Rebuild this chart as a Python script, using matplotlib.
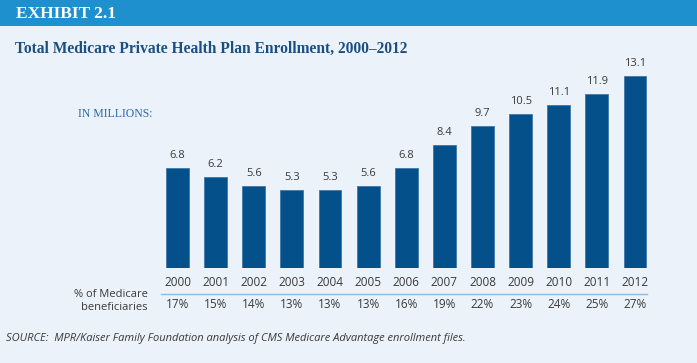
import matplotlib
matplotlib.use("Agg")
import matplotlib.pyplot as plt
from matplotlib.patches import Rectangle
from matplotlib.transforms import blended_transform_factory

years = ["2000", "2001", "2002", "2003", "2004", "2005", "2006",
         "2007", "2008", "2009", "2010", "2011", "2012"]
enrollment = [6.8, 6.2, 5.6, 5.3, 5.3, 5.6, 6.8, 8.4, 9.7, 10.5, 11.1, 11.9, 13.1]
pct_labels = ["17%", "15%", "14%", "13%", "13%", "13%", "16%",
              "19%", "22%", "23%", "24%", "25%", "27%"]

W, H = 697, 363
BG = "#EBF2FA"
HEADER = "#1E90CE"
BAR = "#04508A"
TITLE = "#1B4F80"
TXT = "#3a3a3a"

fig = plt.figure(figsize=(W / 100, H / 100), dpi=100, facecolor=BG)

# header band
fig.patches.append(Rectangle((0, 1 - 26 / H), 1, 26 / H, transform=fig.transFigure,
                             facecolor=HEADER, edgecolor="none", zorder=0))
fig.text(16 / W, 1 - 13.5 / H, "EXHIBIT 2.1", color="white", fontsize=12.5,
         fontweight="bold", family="Liberation Serif", va="center", ha="left")
fig.text(15 / W, 1 - 49 / H, "Total Medicare Private Health Plan Enrollment, 2000–2012",
         color=TITLE, fontsize=11.2, fontweight="bold", family="Liberation Serif",
         va="center", ha="left")
fig.text(78 / W, 1 - 114 / H, "IN MILLIONS:", color="#2a6aa6", fontsize=8.5,
         family="Liberation Serif", va="center", ha="left")

# axes in pixel layout
step = 38.1
left_px = 177.5 - 0.5 * step
right_px = 635 + 0.5 * step
bottom_px = 268
ymax = 14
top_px = bottom_px - ymax * 14.66
ax = fig.add_axes([left_px / W, 1 - bottom_px / H, (right_px - left_px) / W,
                   (bottom_px - top_px) / H])
ax.set_facecolor("none")
x = list(range(len(years)))
ax.bar(x, enrollment, width=0.6, color=BAR, edgecolor="#3f78aa", linewidth=0.6)
ax.set_xlim(-0.5, len(years) - 0.5)
ax.set_ylim(0, ymax)
ax.axis("off")

for xi, v in zip(x, enrollment):
    ax.annotate(f"{v:.1f}", (xi, v), xytext=(0, 5), textcoords="offset points",
                ha="center", va="bottom", fontsize=8, color=TXT, family="Open Sans")

tr = blended_transform_factory(ax.transData, fig.transFigure)
for xi, y, p in zip(x, years, pct_labels):
    ax.text(xi, 1 - 283 / H, y, transform=tr, ha="center", va="center",
            fontsize=8.5, color=TXT, family="Open Sans", clip_on=False)
    ax.text(xi, 1 - 304 / H, p, transform=tr, ha="center", va="center",
            fontsize=8.5, color=TXT, family="Open Sans", clip_on=False)

ax.plot([-0.42, 12.31], [1 - 294 / H] * 2, transform=tr, color="#8DBBE0",
        linewidth=1, clip_on=False)

fig.text(148 / W, 1 - 294.5 / H, "% of Medicare", ha="right", va="center",
         fontsize=8, color=TXT, family="Open Sans")
fig.text(148 / W, 1 - 307.5 / H, "beneficiaries", ha="right", va="center",
         fontsize=8, color=TXT, family="Open Sans")

fig.text(6 / W, 1 - 338 / H,
         "SOURCE:  MPR/Kaiser Family Foundation analysis of CMS Medicare Advantage enrollment files.",
         ha="left", va="center", fontsize=8, color=TXT, family="Open Sans",
         style="italic")

fig.savefig("out.png", dpi=100, facecolor=BG)
